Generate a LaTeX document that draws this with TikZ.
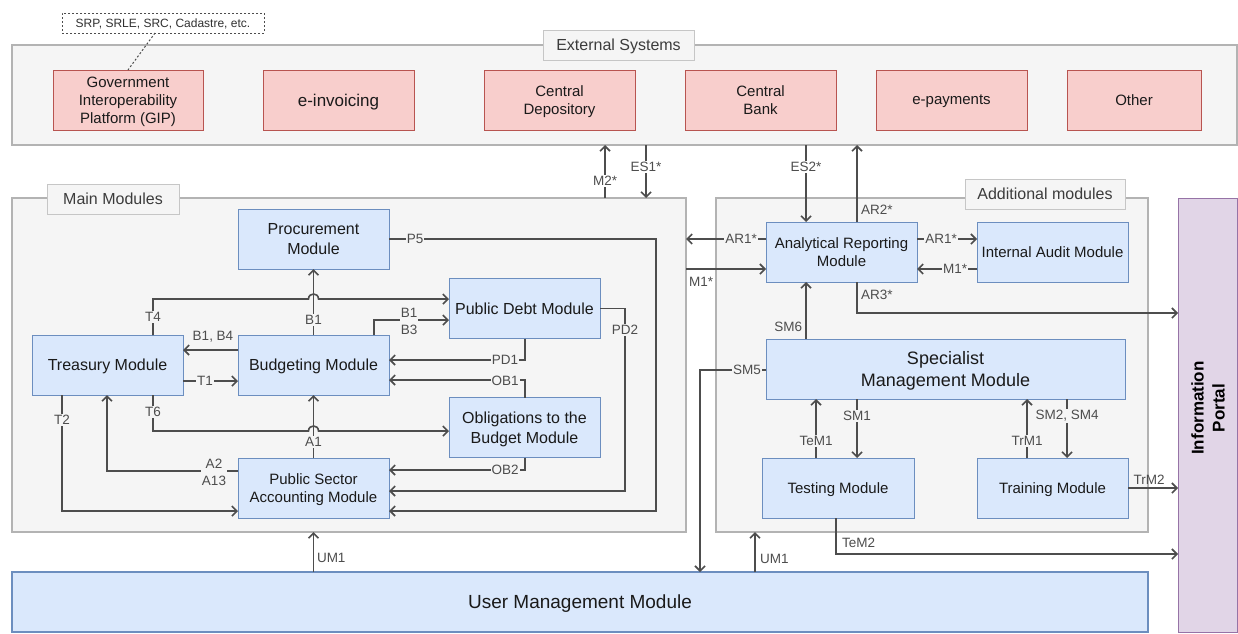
\documentclass[tikz,border=0pt]{standalone}
\usepackage{fontspec}
\setmainfont{Liberation Sans}
\usetikzlibrary{arrows.meta,calc}

\definecolor{contfill}{HTML}{F5F5F5}
\definecolor{contline}{HTML}{B3B3B3}
\definecolor{tagline}{HTML}{C6C6C6}
\definecolor{bluefill}{HTML}{DAE8FC}
\definecolor{blueline}{HTML}{6C8EBF}
\definecolor{redfill}{HTML}{F8CECC}
\definecolor{redline}{HTML}{B85450}
\definecolor{purpfill}{HTML}{E1D5E7}
\definecolor{purpline}{HTML}{9673A6}
\definecolor{wire}{HTML}{4D4D4D}
\definecolor{txt}{HTML}{1A1A1A}
\definecolor{lbltxt}{HTML}{4D4D4D}

\tikzset{
  box/.style={rectangle, inner sep=0pt, outer sep=0pt, align=center, text=txt,
    text depth=0pt, font=\fontsize{15}{18}\selectfont},
  container/.style={box, draw=contline, fill=contfill, line width=1.5pt},
  tag/.style={box, draw=tagline, fill=contfill, line width=1pt, text=txt!85,
    font=\fontsize{16}{19}\selectfont, minimum height=30pt},
  extsys/.style={box, draw=redline, fill=redfill, line width=1pt,
    minimum width=151pt, minimum height=60pt},
  module/.style={box, draw=blueline, fill=bluefill, line width=1pt,
    minimum width=151pt, minimum height=60pt},
  bigger/.style={font=\fontsize{16}{20}\selectfont},
  conn/.style={draw=wire, line width=1.6pt,
    -{Straight Barb[length=5pt,width=10pt]}},
  lbl/.style={inner sep=1pt, outer sep=0pt, text=lbltxt, fill=contfill, align=center,
    font=\fontsize{13.5}{17}\selectfont},
  lblw/.style={lbl, fill=white},
  lbln/.style={lbl, fill=none},
}

\begin{document}
\begin{tikzpicture}[x=1pt,y=-1pt]
\useasboundingbox (0,0) rectangle (1238,633);
\fill[white] (0,0) rectangle (1238,633);

% ---------- external systems ----------
\node[box, draw=wire, line width=0.8pt, dash pattern=on 2pt off 2pt,
      minimum width=202pt, minimum height=20pt, text=txt!90,
      font=\fontsize{12}{14}\selectfont] (note) at (163,23) {SRP, SRLE, SRC, Cadastre, etc.};
\node[container, minimum width=1225pt, minimum height=100pt] (ext) at (624.5,95) {};
\node[tag, minimum width=151pt] (exttag) at (618.5,45) {External Systems};
\node[extsys, minimum width=150pt] (gip) at (128,100) {Government\\Interoperability\\Platform (GIP)};
\node[extsys, font=\fontsize{17}{20}\selectfont] (einv) at (338.5,100) {e-invoicing};
\node[extsys] (cdep) at (559.5,100) {Central\\Depository};
\node[extsys] (cbank) at (760.5,100) {Central\\Bank};
\node[extsys] (epay) at (951.5,100) {e-payments};
\node[extsys, minimum width=134pt] (other) at (1134,100) {Other};
\draw[wire, line width=1pt, dash pattern=on 2pt off 2pt] ([xshift=-8pt]note.south) -- (gip.north);

% ---------- containers ----------
\node[container, minimum width=674pt, minimum height=334pt] (main) at (349,365) {};
\node[tag, minimum width=132pt] (maintag) at (113,199) {Main Modules};
\node[container, minimum width=432pt, minimum height=334pt] (addl) at (932,365) {};
\node[tag, minimum width=160pt] (addltag) at (1045,194) {Additional modules};

\node[box, draw=purpline, fill=purpfill, line width=1pt, minimum width=59pt,
      minimum height=434pt] (portal) at (1207.5,415.5) {};
\node[rotate=90, align=center, text=black, font=\bfseries\fontsize{17}{21}\selectfont]
      (portaltxt) at (1208,408) {Information\\Portal};

\node[box, draw=blueline, fill=bluefill, line width=1.5pt, minimum width=1136pt,
      minimum height=60pt, font=\fontsize{19}{22}\selectfont] (umm) at (580,602) {User Management Module};

% ---------- main modules ----------
\node[module, bigger] (proc)  at (313.5,239)   {Procurement\\Module};
\node[module, bigger] (treas) at (107.5,365)   {Treasury Module};
\node[module, bigger] (budg)  at (313.5,365)   {Budgeting Module};
\node[module, bigger] (pdebt) at (524.5,308.5) {Public Debt Module};
\node[module, bigger] (oblig) at (524.5,427.5) {Obligations to the\\Budget Module};
\node[module] (psam)  at (313.5,488)   {Public Sector\\Accounting Module};

% ---------- additional modules ----------
\node[module] (arm)   at (841.5,252)  {Analytical Reporting\\Module};
\node[module] (iam)   at (1052.5,252) {Internal Audit Module};
\node[module, minimum width=359pt, font=\fontsize{18}{22}\selectfont] (smm) at (945.5,369) {Specialist\\Management Module};
\node[module, minimum width=152pt] (test) at (838,488) {Testing Module};
\node[module] (train)  at (1052.5,488) {Training Module};

% ---------- links to external systems ----------
\draw[conn] (main.north -| 605,0) -- (ext.south -| 605,0);
\draw[conn] (ext.south -| 646,0) -- (main.north -| 646,0);
\draw[conn] (ext.south -| 806,0) -- (arm.north -| 806,0);
\draw[conn] (arm.north -| 857,0) -- (ext.south -| 857,0);

% ---------- analytical reporting ----------
\draw[conn] (arm.west |- 0,239) -- (main.east |- 0,239);
\draw[conn] (main.east |- 0,269) -- (arm.west |- 0,269);
\draw[conn] (arm.east |- 0,239) -- (iam.west |- 0,239);
\draw[conn] (iam.west |- 0,269) -- (arm.east |- 0,269);
\draw[conn] (arm.south -| 857,0) |- (portal.west |- 0,313);
\draw[conn] (smm.north -| 806,0) -- (arm.south -| 806,0);

% ---------- specialist management ----------
\draw[conn] (smm.west |- 0,370) -| (umm.north -| 700,0);
\draw[conn] (test.north -| 816,0) -- (smm.south -| 816,0);
\draw[conn] (smm.south -| 857,0) -- (test.north -| 857,0);
\draw[conn] (train.north -| 1027,0) -- (smm.south -| 1027,0);
\draw[conn] (smm.south -| 1067,0) -- (train.north -| 1067,0);
\draw[conn] (train.east) -- (portal.west |- train.east);
\draw[conn] (test.south -| 836,0) |- (portal.west |- 0,554);

% ---------- user management ----------
\draw[conn] (umm.north -| 755,0) -- (addl.south -| 755,0);
\draw[conn] (umm.north -| psam.south) -- (main.south -| psam.south);

% ---------- main module flows ----------
\draw[conn] (budg.north) -- (proc.south);
\draw[conn] (psam.north) -- (budg.south);
\draw[conn] (treas.north -| 153,0) |- (308.5,299)
      .. controls (308.5,292.3) and (318.5,292.3) .. (318.5,299) -- (pdebt.west |- 0,299);
\draw[conn] (treas.south -| 153,0) |- (308.5,431)
      .. controls (308.5,424.3) and (318.5,424.3) .. (318.5,431) -- (oblig.west |- 0,431);
\draw[conn] (budg.west |- 0,350) -- (treas.east |- 0,350);
\draw[conn] (treas.east |- 0,381) -- (budg.west |- 0,381);
\draw[conn] (budg.north -| 374,0) |- (pdebt.west |- 0,320);
\draw[conn] (pdebt.south -| 525,0) |- (budg.east |- 0,360);
\draw[conn] (oblig.north -| 525,0) |- (budg.east |- 0,380);
\draw[conn] (oblig.south -| 525,0) |- (psam.east |- 0,470);
\draw[conn] (pdebt.east) -| (625,491) -- (psam.east |- 0,491);
\draw[conn] (proc.east) -| (656,511) -- (psam.east |- 0,511);
\draw[conn] (psam.west |- 0,471) -| (treas.south -| 107,0);
\draw[conn] (treas.south -| 62,0) |- (psam.west |- 0,511);

% ---------- connector labels ----------
\node[lblw] (lm2)  at (605,181) {M2*};
\node[lblw] (les1) at (646,167) {ES1*};
\node[lblw] (les2) at (806,167) {ES2*};
\node[lbln, anchor=west] (lar2) at (860,210) {AR2*};
\node[lbl]  (lar1a) at (741,239) {AR1*};
\node[lbln] (lm1a)  at (701,282) {M1*};
\node[lbl]  (lar1b) at (941,239) {AR1*};
\node[lbl]  (lm1b)  at (955,269) {M1*};
\node[lbln, anchor=west] (lar3) at (860,295) {AR3*};
\node[lbln, anchor=east] (lsm6) at (803,327) {SM6};
\node[lbl]  (lsm5)  at (747,370) {SM5};
\node[lbl]  (ltem1) at (816,441) {TeM1};
\node[lbl]  (lsm1)  at (857,416) {SM1};
\node[lbl]  (ltrm1) at (1027,441) {TrM1};
\node[lbl]  (lsm2)  at (1067,416) {SM2, SM4};
\node[lbln] (ltrm2) at (1149,480) {TrM2};
\node[lbln, anchor=west] (ltem2) at (841,543) {TeM2};
\node[lbln, anchor=west] (lum1b) at (759,559) {UM1};
\node[lbln, anchor=west] (lum1a) at (316,558) {UM1};

\node[lbl]  (lt4)   at (153,317) {T4};
\node[lbl]  (lb1)   at (313.5,320) {B1};
\node[lbln] (lb14)  at (213,337) {B1, B4};
\node[lbl]  (lt1)   at (205,381) {T1};
\node[lbl]  (lb13)  at (409,321) {B1\\B3};
\node[lbl]  (lpd1)  at (505,360) {PD1};
\node[lbl]  (lob1)  at (505,381) {OB1};
\node[lbl]  (lob2)  at (505,470) {OB2};
\node[lbl]  (lpd2)  at (625,330) {PD2};
\node[lbl]  (lp5)   at (415,239) {P5};
\node[lbl]  (lt6)   at (153,412) {T6};
\node[lbl]  (la1)   at (313.5,442) {A1};
\node[lbl]  (la2)   at (214,472) {A2\\A13};
\node[lbl]  (lt2)   at (62,420) {T2};
\end{tikzpicture}
\end{document}
